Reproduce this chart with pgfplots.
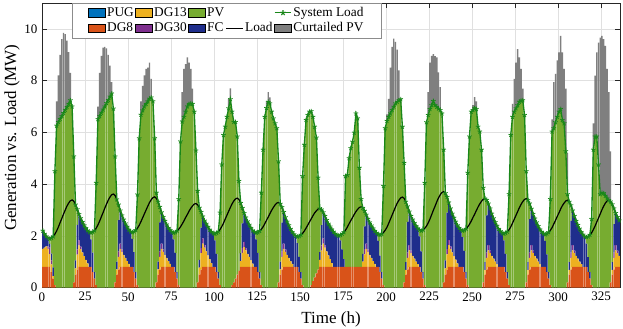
\documentclass[border=0pt]{standalone}
\usepackage{fontspec}
\setmainfont{Liberation Serif}
\usepackage{pgfplots}
\usepackage{pgfplotstable}
\pgfplotsset{compat=1.18}
\definecolor{cPUG}{HTML}{0072BD}
\definecolor{cDGa}{HTML}{D95319}
\definecolor{cDGb}{HTML}{EDB120}
\definecolor{cDGc}{HTML}{7E2F8E}
\definecolor{cPV}{HTML}{77AC30}
\definecolor{cFC}{HTML}{1F2E8C}
\definecolor{cCU}{HTML}{7F7F7F}
\definecolor{cSL}{RGB}{25,135,25}
\pgfplotsset{
  barleg/.style={legend image code/.code={\fill[##1] (0pt,-3.2pt) rectangle (12.5pt,3.2pt);}},
  lineleg/.style={legend image code/.code={\draw[mark repeat=2,mark phase=2,##1] plot coordinates {(0pt,0pt) (6.25pt,0pt) (12.5pt,0pt)};}},
}

% hourly values (MW): h, DG8, DG13, DG30, FC, PV, curtailed PV, load, system load
\pgfplotstableread{
h d8 d13 d30 fc pv cu ld sl
1 0.8 0.70 0 0.70 0 0 2.20 2.20
2 0.8 0.75 0 0.53 0 0 2.08 2.08
3 0.8 0.80 0 0.38 0 0 1.98 1.98
4 0.8 0.70 0.10 0.32 0 0 1.92 1.92
5 0.8 0.50 0.25 0.14 0.20 0 1.89 1.89
6 0.6 0.30 0.15 0.27 0.60 0 1.92 1.92
7 0.35 0.10 0 0.33 1.20 0 1.98 1.98
8 0.1 0 0 0 4.40 0 2.07 4.50
9 0 0 0 0 6.26 0.94 2.19 6.26
10 0 0 0 0 6.40 1.80 2.34 6.40
11 0 0 0 0 6.52 2.48 2.51 6.52
12 0 0 0 0 6.63 2.97 2.67 6.63
13 0 0 0 0 6.75 3.10 2.84 6.75
14 0 0 0 0 6.87 2.93 3.00 6.87
15 0 0 0 0 6.98 2.57 3.15 6.98
16 0 0 0 0 7.10 2.00 3.27 7.10
17 0 0 0 0 7.24 1.06 3.36 7.24
18 0 0 0 0 7.00 0 3.39 7.00
19 0.2 0 0 0 4.87 0 3.34 5.07
20 0.5 0.25 0 0.30 2.16 0 3.21 3.21
21 0.7 0.58 0.2 0.95 0.60 0 3.03 3.03
22 0.8 0.83 0.2 1.01 0 0 2.84 2.84
23 0.8 0.69 0.1 1.09 0 0 2.68 2.68
24 0.8 0.56 0 1.18 0 0 2.54 2.54
25 0.8 0.42 0 1.19 0 0 2.41 2.41
26 0.8 0.27 0 1.23 0 0 2.30 2.30
27 0.8 0.14 0 1.27 0 0 2.21 2.21
28 0.8 0 0 1.35 0 0 2.15 2.15
29 0.8 0 0 1.07 0.25 0 2.12 2.12
30 0.6 0 0 0.75 0.80 0 2.15 2.15
31 0.35 0 0 0.25 1.61 0 2.21 2.21
32 0.1 0 0 0 3.95 0 2.30 4.05
33 0 0 0 0 6.51 0.49 2.42 6.51
34 0 0 0 0 6.63 1.67 2.57 6.63
35 0 0 0 0 6.76 2.20 2.74 6.76
36 0 0 0 0 6.88 2.40 2.90 6.88
37 0 0 0 0 7.00 2.30 3.07 7.00
38 0 0 0 0 7.13 2.12 3.23 7.13
39 0 0 0 0 7.25 1.75 3.38 7.25
40 0 0 0 0 7.38 1.20 3.50 7.38
41 0 0 0 0 7.50 0.44 3.59 7.50
42 0 0 0 0 6.92 0 3.62 6.92
43 0.2 0 0 0 4.87 0 3.56 5.07
44 0.5 0.21 0 0.30 2.40 0 3.41 3.41
45 0.7 0.49 0.2 1.22 0.60 0 3.21 3.21
46 0.8 0.70 0.2 1.28 0 0 2.98 2.98
47 0.8 0.58 0.1 1.31 0 0 2.79 2.79
48 0.8 0.47 0 1.36 0 0 2.63 2.63
49 0.8 0.35 0 1.33 0 0 2.48 2.48
50 0.8 0.23 0 1.32 0 0 2.35 2.35
51 0.8 0.12 0 1.32 0 0 2.24 2.24
52 0.8 0 0 1.37 0 0 2.17 2.17
53 0.8 0 0 1.09 0.25 0 2.14 2.14
54 0.6 0 0 0.77 0.80 0 2.17 2.17
55 0.35 0 0 0.25 1.62 0 2.22 2.22
56 0.1 0 0 0 3.50 0 2.30 3.60
57 0 0 0 0 5.77 0 2.41 5.77
58 0 0 0 0 6.68 0.52 2.55 6.68
59 0 0 0 0 6.85 0.95 2.70 6.85
60 0 0 0 0 7.00 1.20 2.85 7.00
61 0 0 0 0 7.10 1.35 3.00 7.10
62 0 0 0 0 7.20 1.30 3.15 7.20
63 0 0 0 0 7.30 1.40 3.29 7.30
64 0 0 0 0 7.35 0.72 3.40 7.35
65 0 0 0 0 7.20 0 3.48 7.20
66 0 0 0 0 5.77 0 3.51 5.77
67 0.2 0 0 0 3.47 0 3.45 3.67
68 0.5 0.21 0 0.30 2.31 0 3.32 3.32
69 0.7 0.49 0.2 1.13 0.60 0 3.12 3.12
70 0.8 0.70 0.2 1.21 0 0 2.91 2.91
71 0.8 0.58 0.1 1.25 0 0 2.73 2.73
72 0.8 0.47 0 1.31 0 0 2.58 2.58
73 0.8 0.35 0 1.29 0 0 2.44 2.44
74 0.8 0.23 0 1.28 0 0 2.31 2.31
75 0.8 0.12 0 1.30 0 0 2.22 2.22
76 0.8 0 0 1.35 0 0 2.15 2.15
77 0.8 0 0 1.07 0.25 0 2.12 2.12
78 0.6 0 0 0.74 0.80 0 2.14 2.14
79 0.35 0 0 0.25 1.59 0 2.19 2.19
80 0.1 0 0 0 3.32 0 2.26 3.42
81 0 0 0 0 5.65 0 2.35 5.65
82 0 0 0 0 6.42 1.14 2.46 6.42
83 0 0 0 0 6.60 1.85 2.58 6.60
84 0 0 0 0 6.80 1.84 2.71 6.80
85 0 0 0 0 7.00 1.90 2.83 7.00
86 0 0 0 0 7.10 1.60 2.96 7.10
87 0 0 0 0 7.12 1.33 3.07 7.12
88 0 0 0 0 7.10 0.59 3.16 7.10
89 0 0 0 0 6.80 0 3.23 6.80
90 0 0 0 0 5.30 0 3.25 5.30
91 0.2 0 0 0 3.54 0 3.20 3.74
92 0.5 0.27 0 0.30 2.02 0 3.09 3.09
93 0.7 0.63 0.2 0.79 0.60 0 2.92 2.92
94 0.8 0.90 0.2 0.85 0 0 2.75 2.75
95 0.8 0.75 0.1 0.94 0 0 2.59 2.59
96 0.8 0.60 0 1.07 0 0 2.47 2.47
97 0.8 0.45 0 1.10 0 0 2.35 2.35
98 0.8 0.30 0 1.14 0 0 2.24 2.24
99 0.8 0.15 0 1.21 0 0 2.16 2.16
100 0.8 0 0 1.30 0 0 2.10 2.10
101 0.8 0 0 1.03 0.25 0 2.08 2.08
102 0.6 0 0 0.71 0.80 0 2.11 2.11
103 0.35 0 0 0.25 1.56 0 2.16 2.16
104 0.1 0 0 0 2.80 0 2.25 2.90
105 0 0 0 0 4.76 0 2.36 4.76
106 0 0 0 0 5.90 0 2.49 5.90
107 0 0 0 0 6.22 0 2.65 6.22
108 0 0 0 0 6.60 0 2.80 6.60
109 0 0 0 0 6.93 0.37 2.95 6.93
110 0 0 0 0 7.28 0.42 3.10 7.28
111 0.1 0 0 0 6.70 0 3.24 6.80
112 0.2 0 0 0 6.20 0 3.35 6.40
113 0.35 0 0 0 6.05 0 3.43 6.40
114 0.5 0 0 0 5.34 0 3.46 5.84
115 0.65 0 0 0 3.47 0 3.41 4.12
116 0.8 0.23 0 0.30 1.94 0 3.27 3.27
117 0.8 0.54 0.2 0.94 0.60 0 3.08 3.08
118 0.8 0.77 0.2 1.11 0 0 2.88 2.88
119 0.8 0.64 0.1 1.17 0 0 2.71 2.71
120 0.8 0.51 0 1.25 0 0 2.56 2.56
121 0.8 0.39 0 1.24 0 0 2.43 2.43
122 0.8 0.26 0 1.25 0 0 2.31 2.31
123 0.8 0.13 0 1.28 0 0 2.21 2.21
124 0.8 0 0 1.35 0 0 2.15 2.15
125 0.8 0 0 1.07 0.25 0 2.12 2.12
126 0.6 0 0 0.74 0.80 0 2.14 2.14
127 0.35 0 0 0.25 1.59 0 2.19 2.19
128 0.1 0 0 0 3.57 0 2.26 3.67
129 0 0 0 0 5.33 0 2.35 5.33
130 0 0 0 0 6.60 0 2.47 6.60
131 0 0 0 0 6.94 0.26 2.60 6.94
132 0 0 0 0 7.18 0.38 2.73 7.18
133 0 0 0 0 7.12 0.23 2.86 7.12
134 0 0 0 0 6.80 0 2.99 6.80
135 0 0 0 0 6.54 0 3.10 6.54
136 0 0 0 0 6.35 0 3.20 6.35
137 0 0 0 0 6.16 0 3.27 6.16
138 0.2 0 0 0 4.68 0 3.29 4.88
139 0.5 0.21 0 0.30 2.23 0 3.24 3.24
140 0.7 0.49 0.2 1.12 0.60 0 3.11 3.11
141 0.8 0.70 0.2 1.22 0 0 2.92 2.92
142 0.8 0.58 0.1 1.24 0 0 2.72 2.72
143 0.8 0.47 0 1.28 0 0 2.55 2.55
144 0.8 0.35 0 1.26 0 0 2.41 2.41
145 0.8 0.23 0 1.24 0 0 2.27 2.27
146 0.8 0.12 0 1.23 0 0 2.15 2.15
147 0.8 0 0 1.26 0 0 2.06 2.06
148 0.8 0 0 1.20 0 0 2.00 2.00
149 0.8 0 0 0.92 0.25 0 1.97 1.97
150 0.6 0 0 0.59 0.80 0 1.99 1.99
151 0.35 0 0 0.25 1.44 0 2.04 2.04
152 0.1 0 0 0 4.21 0 2.10 4.31
153 0 0 0 0 5.52 0 2.19 5.52
154 0 0 0 0 6.48 0 2.30 6.48
155 0 0 0 0 6.67 0 2.42 6.67
156 0 0 0 0 6.80 0 2.54 6.80
157 0.1 0 0 0 6.72 0 2.66 6.82
158 0.25 0 0 0 6.35 0 2.78 6.60
159 0.4 0 0 0 5.82 0 2.89 6.22
160 0.55 0 0 0 5.25 0 2.97 5.80
161 0.7 0 0 0 3.55 0 3.04 4.25
162 0.8 0.27 0 0.30 1.69 0 3.06 3.06
163 0.8 0.63 0.2 0.79 0.60 0 3.02 3.02
164 0.8 0.90 0.2 1.01 0 0 2.91 2.91
165 0.8 0.75 0.1 1.12 0 0 2.77 2.77
166 0.8 0.60 0 1.21 0 0 2.61 2.61
167 0.8 0.45 0 1.22 0 0 2.47 2.47
168 0.8 0.30 0 1.26 0 0 2.36 2.36
169 0.8 0.15 0 1.30 0 0 2.25 2.25
170 0.8 0 0 1.36 0 0 2.16 2.16
171 0.8 0 0 1.28 0 0 2.08 2.08
172 0.8 0 0 1.23 0 0 2.03 2.03
173 0.8 0 0 1.21 0 0 2.01 2.01
174 0.8 0 0 1.03 0.20 0 2.03 2.03
175 0.8 0 0 0.68 0.60 0 2.08 2.08
176 0.8 0 0 0.30 1.04 0 2.14 2.14
177 0.8 0 0 0 3.51 0 2.23 4.31
178 0.8 0 0 0 3.55 0 2.34 4.35
179 0.8 0 0 0 4.20 0 2.47 5.00
180 0.8 0 0 0 4.59 0 2.59 5.39
181 0.8 0 0 0 4.84 0 2.71 5.64
182 0.8 0 0 0 5.19 0 2.83 5.99
183 0.8 0 0 0 5.93 0 2.94 6.73
184 0.8 0 0 0 5.74 0 3.03 6.54
185 0.8 0 0 0 3.83 0 3.10 4.63
186 0.8 0 0 0 2.62 0 3.12 3.42
187 0.8 0.21 0 0.30 1.77 0 3.08 3.08
188 0.8 0.49 0.2 0.88 0.60 0 2.97 2.97
189 0.8 0.70 0.2 1.12 0 0 2.82 2.82
190 0.8 0.58 0.1 1.18 0 0 2.66 2.66
191 0.8 0.47 0 1.25 0 0 2.52 2.52
192 0.8 0.35 0 1.25 0 0 2.40 2.40
193 0.8 0.23 0 1.26 0 0 2.29 2.29
194 0.8 0.12 0 1.27 0 0 2.19 2.19
195 0.8 0 0 1.32 0 0 2.12 2.12
196 0.8 0 0 1.01 0.25 0 2.06 2.06
197 0.6 0 0 0.64 0.80 0 2.04 2.04
198 0.35 0 0 0.25 1.47 0 2.07 2.07
199 0.1 0 0 0 3.83 0 2.13 3.93
200 0 0 0 0 6.16 0 2.22 6.16
201 0 0 0 0 6.44 0.26 2.33 6.44
202 0 0 0 0 6.60 0.70 2.48 6.60
203 0 0 0 0 6.73 1.77 2.64 6.73
204 0 0 0 0 6.86 2.44 2.80 6.86
205 0 0 0 0 6.99 2.63 2.96 6.99
206 0 0 0 0 7.12 2.38 3.12 7.12
207 0 0 0 0 7.18 2.02 3.27 7.18
208 0 0 0 0 7.24 1.16 3.38 7.24
209 0 0 0 0 7.28 0 3.47 7.28
210 0 0 0 0 6.22 0 3.50 6.22
211 0.2 0 0 0 4.62 0 3.45 4.82
212 0.5 0.19 0 0.30 2.33 0 3.32 3.32
213 0.7 0.45 0.2 1.19 0.60 0 3.14 3.14
214 0.8 0.64 0.2 1.30 0 0 2.94 2.94
215 0.8 0.53 0.1 1.34 0 0 2.77 2.77
216 0.8 0.43 0 1.40 0 0 2.63 2.63
217 0.8 0.32 0 1.38 0 0 2.50 2.50
218 0.8 0.21 0 1.37 0 0 2.38 2.38
219 0.8 0.11 0 1.38 0 0 2.29 2.29
220 0.8 0 0 1.18 0.25 0 2.23 2.23
221 0.6 0 0 0.80 0.80 0 2.20 2.20
222 0.35 0 0 0.25 1.63 0 2.23 2.23
223 0.1 0 0 0 3.95 0 2.29 4.05
224 0 0 0 0 6.39 0 2.38 6.39
225 0 0 0 0 6.67 0.89 2.50 6.67
226 0 0 0 0 6.90 1.80 2.65 6.90
227 0 0 0 0 7.05 1.91 2.82 7.05
228 0 0 0 0 7.21 1.81 2.99 7.21
229 0 0 0 0 7.05 1.90 3.15 7.05
230 0 0 0 0 6.99 1.91 3.32 6.99
231 0 0 0 0 6.92 1.40 3.47 6.92
232 0 0 0 0 6.86 0.89 3.59 6.86
233 0 0 0 0 6.73 0 3.68 6.73
234 0.2 0 0 0 5.13 0 3.71 5.33
235 0.5 0.25 0 0.30 2.60 0 3.65 3.65
236 0.7 0.59 0.2 1.41 0.60 0 3.50 3.50
237 0.8 0.84 0.2 1.45 0 0 3.29 3.29
238 0.8 0.70 0.1 1.46 0 0 3.06 3.06
239 0.8 0.56 0 1.50 0 0 2.86 2.86
240 0.8 0.42 0 1.48 0 0 2.70 2.70
241 0.8 0.28 0 1.47 0 0 2.55 2.55
242 0.8 0.14 0 1.47 0 0 2.41 2.41
243 0.8 0 0 1.51 0 0 2.31 2.31
244 0.8 0 0 1.43 0 0 2.23 2.23
245 0.8 0 0 1.15 0.25 0 2.20 2.20
246 0.6 0 0 0.82 0.80 0 2.22 2.22
247 0.35 0 0 0.25 1.67 0 2.27 2.27
248 0.1 0 0 0 4.34 0 2.35 4.44
249 0 0 0 0 5.84 0 2.45 5.84
250 0 0 0 0 6.80 0 2.57 6.80
251 0 0 0 0 6.86 0.19 2.71 6.86
252 0 0 0 0 6.94 0.42 2.84 6.94
253 0 0 0 0 6.90 0.30 2.98 6.90
254 0 0 0 0 6.22 0 3.12 6.22
255 0 0 0 0 6.03 0 3.24 6.03
256 0 0 0 0 5.33 0 3.34 5.33
257 0.2 0 0 0 3.66 0 3.42 3.86
258 0.5 0.19 0 0.30 2.45 0 3.44 3.44
259 0.7 0.45 0.2 1.44 0.60 0 3.39 3.39
260 0.8 0.64 0.2 1.61 0 0 3.25 3.25
261 0.8 0.53 0.1 1.63 0 0 3.06 3.06
262 0.8 0.43 0 1.63 0 0 2.86 2.86
263 0.8 0.32 0 1.56 0 0 2.68 2.68
264 0.8 0.21 0 1.52 0 0 2.53 2.53
265 0.8 0.11 0 1.48 0 0 2.39 2.39
266 0.8 0 0 1.47 0 0 2.27 2.27
267 0.8 0 0 1.38 0 0 2.18 2.18
268 0.8 0 0 1.31 0 0 2.11 2.11
269 0.8 0 0 1.03 0.25 0 2.08 2.08
270 0.6 0 0 0.71 0.80 0 2.11 2.11
271 0.35 0 0 0.25 1.56 0 2.16 2.16
272 0.1 0 0 0 3.51 0 2.24 3.61
273 0 0 0 0 5.90 0 2.35 5.90
274 0 0 0 0 6.60 0.50 2.49 6.60
275 0 0 0 0 6.80 1.27 2.64 6.80
276 0 0 0 0 6.93 1.77 2.79 6.93
277 0 0 0 0 7.05 2.17 2.94 7.05
278 0 0 0 0 7.18 1.72 3.09 7.18
279 0 0 0 0 7.22 1.23 3.22 7.22
280 0 0 0 0 7.24 0.45 3.33 7.24
281 0 0 0 0 6.67 0 3.41 6.67
282 0.2 0 0 0 4.30 0 3.44 4.50
283 0.5 0.19 0 0.30 2.39 0 3.38 3.38
284 0.7 0.45 0.2 1.30 0.60 0 3.25 3.25
285 0.8 0.64 0.2 1.41 0 0 3.05 3.05
286 0.8 0.53 0.1 1.42 0 0 2.85 2.85
287 0.8 0.43 0 1.44 0 0 2.67 2.67
288 0.8 0.32 0 1.40 0 0 2.52 2.52
289 0.8 0.21 0 1.37 0 0 2.38 2.38
290 0.8 0.11 0 1.34 0 0 2.25 2.25
291 0.8 0 0 1.36 0 0 2.16 2.16
292 0.8 0 0 1.29 0 0 2.09 2.09
293 0.8 0 0 1.01 0.25 0 2.06 2.06
294 0.6 0 0 0.69 0.80 0 2.09 2.09
295 0.35 0 0 0.25 1.54 0 2.14 2.14
296 0.1 0 0 0 3.32 0 2.22 3.42
297 0 0 0 0 6.03 0.47 2.32 6.03
298 0 0 0 0 6.16 1.78 2.46 6.16
299 0 0 0 0 6.39 1.87 2.60 6.39
300 0 0 0 0 6.60 2.18 2.75 6.60
301 0 0 0 0 6.80 2.29 2.89 6.80
302 0 0 0 0 6.90 2.83 3.04 6.90
303 0 0 0 0 6.48 2.61 3.17 6.48
304 0 0 0 0 6.35 2.10 3.27 6.35
305 0 0 0 0 5.27 2.42 3.35 5.27
306 0.2 0 0 0 3.41 1.59 3.38 3.61
307 0.5 0.19 0 0.30 2.33 0 3.32 3.32
308 0.7 0.45 0.2 1.23 0.60 0 3.18 3.18
309 0.8 0.64 0.2 1.34 0 0 2.98 2.98
310 0.8 0.53 0.1 1.34 0 0 2.77 2.77
311 0.8 0.43 0 1.35 0 0 2.58 2.58
312 0.8 0.32 0 1.30 0 0 2.42 2.42
313 0.8 0.21 0 1.27 0 0 2.28 2.28
314 0.8 0.11 0 1.24 0 0 2.15 2.15
315 0.8 0 0 1.25 0 0 2.05 2.05
316 0.8 0 0 1.18 0 0 1.98 1.98
317 0.8 0 0 0.90 0.25 0 1.95 1.95
318 0.6 0 0 0.58 0.80 0 1.98 1.98
319 0.35 0 0 0.25 1.44 0 2.04 2.04
320 0.1 0 0 0 2.55 0 2.12 2.65
321 0 0 0 0 5.33 1.02 2.24 5.33
322 0 0 0 0 5.84 2.35 2.38 5.84
323 0 0 0 0 5.84 3.25 2.54 5.84
324 0 0 0 0 4.76 4.71 2.69 4.76
325 0 0 0 0 3.61 6.05 2.85 3.61
326 0 0 0 0 3.67 6.06 3.01 3.67
327 0 0 0 0 3.65 5.95 3.15 3.65
328 0 0 0 0 3.55 5.79 3.27 3.55
329 0 0 0 0 3.45 5.00 3.35 3.45
330 0 0 0 0 3.38 4.18 3.38 3.38
331 0.2 0 0 0 3.13 1.94 3.33 3.33
332 0.5 0.19 0 0.30 2.23 0 3.22 3.22
333 0.7 0.45 0.2 1.11 0.60 0 3.06 3.06
334 0.8 0.64 0.2 1.24 0 0 2.88 2.88
335 0.8 0.53 0.1 1.30 0 0 2.73 2.73
336 0.8 0.43 0 1.37 0 0 2.60 2.60
}\hours

\begin{document}
\begin{tikzpicture}
\pgfplotsset{
  frame/.style={width=433.5pt, height=213.5pt, scale only axis,
    xmin=0, xmax=336, ymin=0, ymax=11, enlargelimits=false},
}
\begin{axis}[frame, name=main, ybar stacked, bar width=0.82,
  xtick={0,25,...,325}, ytick={0,2,...,10},
  tick align=inside, major tick length=3.5pt,
  axis line style={black!85, line width=0.5pt},
  every tick/.style={black!85, line width=0.5pt},
  grid=major, major grid style={black!12, line width=0.4pt},
  xlabel={Time (h)}, ylabel={Generation vs. Load (MW)},
  xlabel style={at={(axis description cs:0.5,0)}, anchor=center, yshift=-24pt},
  ylabel style={at={(axis description cs:-0.052,0.527)}, anchor=center},
  ticklabel style={font=\fontsize{9.75}{11}\selectfont},
  label style={font=\fontsize{12.75}{14}\selectfont},
  /pgf/number format/assume math mode=true,
]
\addplot[fill=cDGa, draw=none] table[x expr=\thisrow{h}-0.5, y=d8] {\hours};
\addplot[fill=cDGb, draw=none] table[x expr=\thisrow{h}-0.5, y=d13] {\hours};
\addplot[fill=cDGc, draw=none] table[x expr=\thisrow{h}-0.5, y=d30] {\hours};
\addplot[fill=cFC, draw=none] table[x expr=\thisrow{h}-0.5, y=fc] {\hours};
\addplot[fill=cPV, draw=none] table[x expr=\thisrow{h}-0.5, y=pv] {\hours};
\addplot[fill=cCU, draw=none] table[x expr=\thisrow{h}-0.5, y=cu] {\hours};
\end{axis}
\begin{axis}[frame, hide axis,
  legend columns=5, legend cell align=left,
  legend style={at={(0.052,1)}, anchor=north west, draw=black!45, fill=white,
    font=\fontsize{10}{11}\selectfont, inner xsep=12pt, inner ysep=1.5pt,
    nodes={inner xsep=1.2pt, inner ysep=1.5pt},
    /tikz/every even column/.append style={column sep=0pt}},
]
\addlegendimage{barleg, fill=cPUG}\addlegendentry{PUG}
\addlegendimage{barleg, fill=cDGb}\addlegendentry{DG13}
\addlegendimage{barleg, fill=cPV}\addlegendentry{PV}
\addlegendimage{empty legend}\addlegendentry{}
\addlegendimage{lineleg, cSL, line width=0.8pt, mark=star, mark size=2pt}\addlegendentry{System Load}
\addlegendimage{barleg, fill=cDGa}\addlegendentry{DG8}
\addlegendimage{barleg, fill=cDGc}\addlegendentry{DG30}
\addlegendimage{barleg, fill=cFC}\addlegendentry{FC}
\addlegendimage{lineleg, black, line width=0.8pt}\addlegendentry{Load}
\addlegendimage{barleg, fill=cCU}\addlegendentry{Curtailed PV}
\addplot[black, line width=0.9pt, forget plot] table[x expr=\thisrow{h}-0.5, y=ld] {\hours};
\addplot[cSL, line width=1pt, mark=star, mark size=1.8pt, mark options={line width=0.6pt}, forget plot] table[x expr=\thisrow{h}-0.5, y=sl] {\hours};
\end{axis}
\pgfresetboundingbox
\path ([xshift=-31.5pt,yshift=-31pt]main.south west) rectangle ([xshift=2.25pt,yshift=2.25pt]main.north east);
\end{tikzpicture}
\end{document}
